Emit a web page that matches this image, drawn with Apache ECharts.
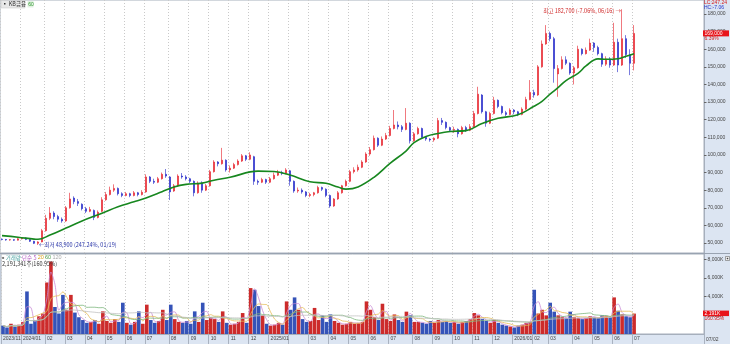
<!DOCTYPE html>
<html>
<head>
<meta charset="utf-8">
<script src="https://cdn.jsdelivr.net/npm/echarts@6/dist/echarts.min.js"></script>
<style>
  html, body { margin: 0; padding: 0; background: #fff; }
  #chart { width: 730px; height: 344px; }
</style>
</head>
<body>
<div id="chart"></div>
<script>
// one slot = roughly 4 trading days, prices in thousands of won: [open, close, low, high]
const candles = [
  [52.2,52.0,51.5,52.6],[52.0,51.7,51.3,52.3],[51.7,51.9,51.3,52.2],[51.9,51.6,51.2,52.1],
  [51.6,52.4,51.4,52.8],[52.4,52.8,52.0,53.4],[52.8,52.0,51.6,53.2],[52.0,51.0,50.6,52.2],
  [51.0,49.8,49.4,51.2],[49.8,50.6,48.9,51.0],[50.6,57.0,50.4,58.0],[57.0,64.0,56.5,66.0],
  [64.0,67.0,63.0,70.4],[67.0,65.0,63.5,68.0],[65.0,63.5,62.0,66.0],[63.5,62.5,61.5,64.5],
  [62.5,70.0,62.0,71.0],[70.0,75.0,69.5,78.5],[75.5,73.5,72.0,76.5],[73.5,72.5,71.0,75.0],
  [72.0,69.5,68.5,72.5],[69.5,68.0,67.0,70.5],[68.0,69.0,67.5,70.5],[68.5,64.5,63.0,69.0],
  [64.5,67.5,64.0,68.5],[68.0,74.5,67.5,76.0],[74.5,77.5,74.0,79.0],[77.5,80.0,77.0,82.0],
  [80.0,81.0,79.0,83.3],[81.0,78.0,77.0,81.5],[78.0,77.0,76.0,78.8],[77.0,78.0,76.5,79.0],
  [78.0,77.0,76.0,78.5],[77.0,78.5,76.5,79.5],[78.5,77.5,76.5,79.0],[77.5,78.8,77.0,80.0],
  [79.0,87.5,78.5,89.0],[87.5,85.0,84.0,88.0],[85.0,84.5,83.5,86.5],[84.5,86.5,84.0,87.5],
  [86.5,89.0,86.0,90.0],[89.0,88.0,87.0,92.0],[87.5,79.0,74.4,88.0],[79.5,82.5,79.0,83.5],
  [82.5,88.0,82.0,89.0],[88.0,87.5,86.5,89.7],[87.5,86.5,85.5,88.5],[86.5,85.0,84.0,87.0],
  [85.0,78.5,76.5,85.5],[78.5,84.0,78.0,85.0],[84.0,80.0,78.5,85.0],[80.0,82.5,79.5,83.5],
  [82.5,90.5,82.0,91.5],[90.5,96.0,90.0,97.0],[96.0,95.0,93.5,96.5],[95.0,97.0,94.5,104.0],
  [97.0,91.5,90.5,97.5],[91.5,92.5,90.0,94.0],[92.5,94.5,92.0,95.5],[94.5,96.5,94.0,97.5],
  [96.5,99.5,96.0,100.5],[99.5,97.5,96.5,100.0],[97.5,100.0,97.0,101.5],[99.0,85.0,83.0,99.5],
  [85.0,84.5,83.0,86.0],[84.5,86.0,84.0,87.0],[86.0,84.5,83.5,86.5],[84.5,86.5,84.0,87.5],
  [86.5,88.5,86.0,90.0],[88.5,90.0,88.0,91.5],[90.0,89.5,88.5,91.0],[89.5,91.5,89.0,92.5],
  [91.0,85.0,82.5,91.5],[85.0,79.5,78.5,85.5],[79.5,80.0,78.5,81.5],[80.0,79.0,78.0,81.0],
  [79.0,77.0,76.0,79.5],[77.0,77.5,76.0,78.5],[77.5,78.5,76.5,79.0],[78.5,81.5,78.0,82.5],
  [81.5,80.5,79.5,82.0],[80.5,77.0,76.0,81.0],[77.0,71.0,70.0,77.5],[71.0,75.0,70.5,75.5],
  [75.0,78.5,74.5,79.5],[78.5,82.5,78.0,83.0],[82.5,85.0,82.0,86.0],[85.0,90.5,84.5,91.5],
  [90.5,91.5,89.5,93.0],[91.5,93.0,90.5,94.5],[93.0,96.0,92.5,97.0],[96.0,100.5,95.5,101.5],
  [100.5,103.0,99.5,104.5],[103.0,109.5,102.5,111.0],[109.5,105.5,104.5,110.0],[105.5,109.0,105.0,110.5],
  [109.0,111.0,108.5,112.5],[111.0,115.0,110.5,116.5],[115.0,117.0,114.5,125.5],[117.0,116.0,114.5,119.0],
  [116.0,114.5,113.0,117.0],[114.5,118.0,114.0,126.6],[118.0,108.0,106.5,118.5],[108.0,112.0,107.5,113.0],
  [112.0,115.0,111.5,116.0],[115.0,110.0,109.5,115.5],[110.0,109.0,108.0,110.5],[109.0,108.5,107.5,109.5],
  [108.5,109.5,107.5,110.0],[109.5,119.5,109.0,121.0],[119.5,118.5,117.0,121.0],[118.5,115.5,114.5,119.0],
  [115.5,114.0,113.0,116.0],[114.0,114.5,112.5,116.0],[114.5,112.0,110.0,115.0],[112.0,115.5,111.5,116.5],
  [115.5,114.0,113.0,116.5],[114.0,116.0,113.5,117.5],[116.0,123.5,115.5,125.0],[123.5,134.5,123.0,138.7],
  [134.0,124.5,123.5,134.5],[124.5,118.0,116.0,125.0],[118.0,123.5,117.5,124.5],[123.5,131.0,123.0,133.0],
  [131.0,127.5,126.5,131.5],[127.5,124.0,123.0,128.0],[124.0,123.0,122.0,125.0],[123.0,125.5,122.5,126.5],
  [125.5,124.5,123.0,126.0],[124.5,123.0,122.0,125.0],[123.0,126.0,122.5,127.0],[126.0,131.5,125.5,133.0],
  [131.5,135.5,131.0,142.5],[135.5,134.0,132.5,137.0],[134.0,150.0,133.5,151.0],[150.0,163.0,149.5,165.0],
  [163.0,169.0,162.5,173.7],[169.0,166.0,164.5,170.0],[166.0,149.0,141.0,167.0],[146.0,149.0,133.0,151.0],
  [149.0,154.0,148.5,156.0],[154.0,152.0,151.0,156.0],[152.0,146.5,145.5,152.5],[146.5,149.5,140.0,150.5],
  [149.5,160.0,149.0,162.0],[160.0,157.5,156.5,160.5],[157.5,159.5,157.0,161.0],[159.5,163.5,159.0,166.0],
  [163.5,161.0,158.5,164.0],[161.0,157.5,156.5,162.0],[157.5,151.5,150.0,158.0],[151.5,154.5,150.5,156.0],
  [154.5,151.0,149.5,155.5],[151.0,164.0,150.5,175.0],[164.0,151.0,147.0,166.0],[151.0,166.0,150.5,182.7],
  [166.0,157.0,155.0,168.0],[157.0,152.0,145.3,160.0],[152.0,169.0,148.0,173.7]
];

// volume per slot, thousands of shares
const volumes = [
  900,700,1100,800,1000,1300,4570,1100,1500,1900,2200,5530,7780,2900,2200,4200,
  2600,4200,2300,1800,1500,1200,1300,1500,1100,2430,1400,1200,1600,1300,3360,1200,
  1000,1300,2430,1100,3150,1500,1200,1400,2600,1500,3150,1600,1300,1200,1400,1100,
  2430,1300,3360,1500,1800,1600,1300,2430,1200,1000,1100,1300,2250,1200,4930,4750,
  3000,2000,1100,900,1000,1200,1000,3500,2600,3930,2600,1600,1300,1400,2800,1500,
  2000,1300,2100,1400,1200,1000,1100,1300,1100,1200,1300,3500,2600,1800,1500,3250,
  1600,1400,2100,1500,1300,2400,2000,1300,1300,1200,1100,1400,1200,1500,1300,1400,
  1200,1300,1100,1300,1400,1600,2250,2000,1600,1400,1200,1500,1200,1000,900,800,
  700,900,1000,1200,1300,4750,2200,2600,2000,3360,2400,2000,1800,1700,2400,1800,
  1700,1600,1700,1900,1800,1700,2000,1900,1800,3930,2500,2100,1900,1800,2191
];

// 60-day moving average: [slot, value]
const ma60Points = [
  [0,54.2],[4,53.3],[8,52.2],[9,52.1],[12,54.5],[16,58.5],[20,62.5],[25,66.9],[29,70.6],
  [33,73.4],[36,75.6],[40,79.1],[43,81.8],[46,83.3],[50,84.0],[53,85.6],[57,87.3],[64,90.8],
  [68,90.6],[72,88.6],[77,84.8],[81,83.9],[84,81.8],[86,80.6],[89,81.8],[93,87.3],[97,95.2],
  [101,102.2],[103,107.0],[106,110.5],[109,112.2],[112,113.3],[116,113.8],[120,117.8],
  [124,120.8],[129,122.8],[133,127.6],[135,130.4],[137,134.5],[139,138.2],[141,142.2],
  [144,146.3],[146,150.5],[149,154.5],[151,154.3],[154,154.6],[156,156.0],[158,157.5]
];

const monthTicks = [
  [0,'2023/11'],[5,'2024/01'],[11,'02'],[16,'03'],[21,'04'],[26,'05'],[31,'06'],[36,'07'],
  [42,'08'],[47,'09'],[52,'10'],[57,'11'],[62,'12'],[67,'2025/01'],[72,''],[77,'03'],
  [82,'04'],[87,'05'],[92,'06'],[97,'07'],[103,'08'],[108,'09'],[113,'10'],[118,'11'],
  [123,'12'],[128,'2026/01'],[133,'02'],[137,'03'],[143,'04'],[148,'05'],[153,'06'],[158,'07']
];
const priceTicks = [50,60,70,80,90,100,110,120,130,140,150,160,170,180];
const volumeTicks = [2000,4000,6000,8000];
const volumeMaWindows = [2, 5, 15, 30];   // 5 / 20 / 60 / 120 days in slots
const slotCount = 176;

const highText = '(-7.06%, 06/16)';
const lowText = '(247.24%, 01/19)';
const lastRate = '6.39%';
const volumeRate = '160.95%';
const volumeTotal = '2,191,341주(160.95%)';

const FONT = "'Liberation Sans','Noto Sans CJK KR',sans-serif";
const KFONT = "'Noto Sans CJK KR','Liberation Sans',sans-serif";
const UP = '#e61e28', DOWN = '#1f24c8';
const VOL_UP = '#cc2b2b', VOL_DOWN = '#3553b8';
const volMaColors = ['#c98ad6', '#e6bd55', '#7db77d', '#c2c2c2'];

const categories = Array.from({ length: slotCount }, (_, i) => String(i));
const tickLabel = Object.fromEntries(monthTicks);
const isTick = (i) => tickLabel[i] !== undefined;
const fmt = (v) => Math.round(v).toLocaleString('en-US');

function movingAverage(values, win) {
  return values.map((_, i) => {
    const part = values.slice(Math.max(0, i - win + 1), i + 1);
    return part.reduce((a, b) => a + b, 0) / part.length;
  });
}

const volumeData = volumes.map((v, i) => ({
  value: v,
  itemStyle: { color: candles[i][1] >= candles[i][0] ? VOL_UP : VOL_DOWN }
}));

const splitLine = {
  show: true,
  interval: (i) => isTick(i),
  lineStyle: { color: '#c9c9c9', type: [1, 2], width: 1 }
};

const chart = echarts.init(document.getElementById('chart'));
chart.setOption({
  animation: false,
  backgroundColor: '#dce5f2',
  textStyle: { fontFamily: FONT },
  grid: [
    { left: 0, top: 0, right: 26, height: 253, show: true, backgroundColor: '#fff', borderColor: '#a6afbc', borderWidth: 1 },
    { left: 0, top: 254, right: 26, height: 80, show: true, backgroundColor: '#fff', borderColor: '#a6afbc', borderWidth: 1 }
  ],
  xAxis: [
    {
      type: 'category', gridIndex: 0, data: categories, boundaryGap: true,
      axisLine: { show: false }, axisTick: { show: false }, axisLabel: { show: false },
      splitLine: splitLine
    },
    {
      type: 'category', gridIndex: 1, data: categories, boundaryGap: true,
      axisLine: { show: true, lineStyle: { color: '#a6afbc' } },
      axisTick: { show: true, interval: (i) => isTick(i), length: 10, lineStyle: { color: '#a9b2c0' } },
      axisLabel: {
        interval: (i) => isTick(i), align: 'left', margin: 2.5,
        fontSize: 5, color: '#444', fontFamily: FONT,
        formatter: (v) => tickLabel[Number(v)] || ''
      },
      splitLine: splitLine
    }
  ],
  yAxis: [
    {
      type: 'value', gridIndex: 0, position: 'right', min: 44.323, max: 187.948,
      axisLine: { show: true, lineStyle: { color: '#a6afbc' } },
      axisTick: { show: true, length: 2.5, customValues: priceTicks, lineStyle: { color: '#666' } },
      axisLabel: {
        customValues: priceTicks, margin: 3.5, fontSize: 5, color: '#444', fontFamily: FONT,
        formatter: (v) => fmt(v * 1000)
      },
      splitLine: { show: false }
    },
    {
      type: 'value', gridIndex: 1, position: 'right', min: 0, max: 8590,
      axisLine: { show: true, lineStyle: { color: '#a6afbc' } },
      axisTick: { show: true, length: 2.5, customValues: volumeTicks, lineStyle: { color: '#666' } },
      axisLabel: {
        customValues: volumeTicks, margin: 3.5, fontSize: 5, color: '#444', fontFamily: FONT,
        formatter: (v) => fmt(v) + 'K'
      },
      splitLine: { show: false }
    }
  ],
  series: [
    {
      type: 'candlestick', xAxisIndex: 0, yAxisIndex: 0, data: candles,
      barWidth: 2.4,
      itemStyle: { color: UP, color0: DOWN, borderColor: UP, borderColor0: DOWN, borderWidth: 0.6 }
    },
    {
      type: 'line', xAxisIndex: 0, yAxisIndex: 0, data: ma60Points, smooth: 0.4,
      symbol: 'none', lineStyle: { color: '#17871f', width: 1.6 }, z: 3
    },
    {
      type: 'bar', xAxisIndex: 1, yAxisIndex: 1, data: volumeData, barWidth: 3.6
    },
    ...volumeMaWindows.map((w, k) => ({
      type: 'line', xAxisIndex: 1, yAxisIndex: 1, data: movingAverage(volumes, w),
      symbol: 'none', smooth: 0.3, lineStyle: { color: volMaColors[k], width: 0.8 }, z: 3
    }))
  ]
});

// overlays anchored to the data
const highs = candles.map(c => c[3]);
const lows = candles.map(c => c[2]);
const hiIdx = highs.indexOf(Math.max(...highs));
const loIdx = lows.indexOf(Math.min(...lows));
const lastIdx = candles.length - 1;
const hiPt = chart.convertToPixel({ gridIndex: 0 }, [hiIdx, highs[hiIdx]]);
const loPt = chart.convertToPixel({ gridIndex: 0 }, [loIdx, lows[loIdx]]);
const lastPt = chart.convertToPixel({ gridIndex: 0 }, [lastIdx, candles[lastIdx][1]]);
const volPt = chart.convertToPixel({ gridIndex: 1 }, [lastIdx, volumes[lastIdx]]);

const txt = (x, y, text, fill, extra, font) => ({
  type: 'text', x, y, z: 100,
  style: Object.assign({ text, fill, font: font || ('5px ' + FONT), verticalAlign: 'middle' }, extra || {})
});

chart.setOption({
  graphic: [
    { type: 'line', z: 100, shape: { x1: 0, y1: 253.5, x2: 730, y2: 253.5 }, style: { stroke: '#99a3b1', lineWidth: 1 } },
    { type: 'rect', z: 100, shape: { x: 1, y: 0.5, width: 24, height: 7.5 }, style: { fill: '#e8e8e8', stroke: '#c4c4c4', lineWidth: 0.5 } },
    txt(2, 4.3, '▪ KB금융', '#333', null, '5.5px ' + KFONT),
    { type: 'rect', z: 100, shape: { x: 27.5, y: 1, width: 6, height: 6.5 }, style: { fill: '#e2f1e2' } },
    txt(28.3, 4.4, '60', '#2f9a2f'),
    txt(704, 2.5, 'LC:247.24', '#d42020'),
    txt(704, 7.6, 'HC:-7.06', '#2030c8'),
    { type: 'rect', z: 100, shape: { x: 703, y: lastPt[1] - 3, width: 26, height: 6 }, style: { fill: '#e8141a' } },
    txt(704.5, lastPt[1], fmt(candles[lastIdx][1] * 1000), '#fff'),
    txt(704.5, lastPt[1] + 5.2, lastRate, '#d42020'),
    txt(hiPt[0] - 1, hiPt[1] + 1.8, '최고 ' + fmt(highs[hiIdx] * 1000) + ' ' + highText + ' →', '#d02a2a', { align: 'right' }, '5.5px ' + KFONT),
    txt(loPt[0] + 1, loPt[1], '←최저 ' + fmt(lows[loIdx] * 1000) + ' ' + lowText, '#2a36a8', null, '5.5px ' + KFONT),
    {
      type: 'text', x: 2, y: 257.8, z: 100,
      style: {
        text: '{a|■} {b|거래량} {c|단순 5} {d|20} {e|60} {f|120}',
        font: '5.5px ' + KFONT, verticalAlign: 'middle',
        rich: {
          a: { fill: '#777', fontSize: 4 },
          b: { fill: '#3c9a9a', fontSize: 5.5, fontFamily: KFONT },
          c: { fill: '#b45cc4', fontSize: 5.5, fontFamily: KFONT },
          d: { fill: '#d9a21c', fontSize: 5.5 },
          e: { fill: '#4e9e4e', fontSize: 5.5 },
          f: { fill: '#aaaaaa', fontSize: 5.5 }
        }
      }
    },
    txt(2, 263.8, volumeTotal, '#333', null, '5.5px ' + KFONT),
    { type: 'rect', z: 100, shape: { x: 703, y: volPt[1] - 3, width: 26, height: 5.5 }, style: { fill: '#e8141a' } },
    txt(704.5, volPt[1] - 0.3, fmt(volumes[lastIdx]) + 'K', '#fff'),
    txt(704.5, volPt[1] + 4.6, volumeRate, '#d42020'),
    { type: 'rect', z: 100, shape: { x: 725.5, y: 256.5, width: 4, height: 4 }, style: { fill: '#fff', stroke: '#666', lineWidth: 0.6 } },
    { type: 'rect', z: 100, shape: { x: 726.7, y: 257.7, width: 1.6, height: 1.6 }, style: { fill: '#444' } },
    txt(706, 339.3, '07/02', '#444')
  ]
});
</script>
</body>
</html>
